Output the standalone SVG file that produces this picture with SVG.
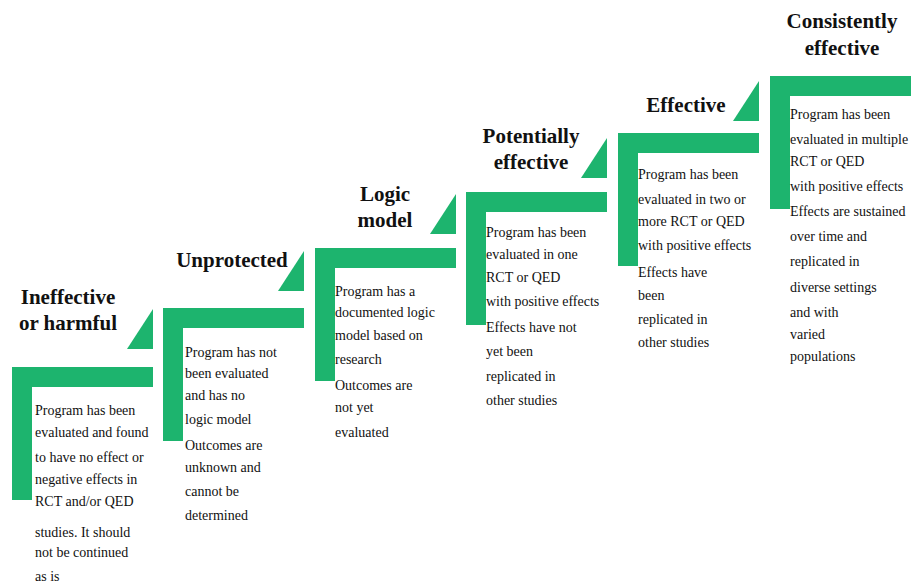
<svg xmlns="http://www.w3.org/2000/svg" width="923" height="584" viewBox="0 0 923 584">
<style>
.step{fill:#1db46e}
.tri{fill:#1db46e}
.hd{font-family:"Liberation Serif","Times New Roman",serif;font-weight:bold;font-size:21px;fill:#111;text-anchor:middle}
.bd{font-family:"Liberation Serif","Times New Roman",serif;font-size:14px;fill:#111}
</style>
<rect width="923" height="584" fill="#fff"/>
<g id="step1">
<path class="step" d="M12,367 h141 v20 h-121 v113 h-20 z"/>
<polygon class="tri" points="127,349 153,349 153,309"/>
<text class="hd" x="68" y="304">Ineffective</text>
<text class="hd" x="68" y="330">or harmful</text>
<text class="bd" x="35"><tspan x="35" y="415">Program has been</tspan><tspan x="35" y="437">evaluated and found</tspan><tspan x="35" y="462">to have no effect or</tspan><tspan x="35" y="484">negative effects in</tspan><tspan x="35" y="506">RCT and/or QED</tspan><tspan x="35" y="537">studies. It should</tspan><tspan x="35" y="557">not be continued</tspan><tspan x="35" y="581">as is</tspan></text>
</g>
<g id="step2">
<path class="step" d="M163,308 h141 v20 h-121 v113 h-20 z"/>
<polygon class="tri" points="278,291 304,291 304,251"/>
<text class="hd" x="232" y="267">Unprotected</text>
<text class="bd"><tspan x="185" y="357">Program has not</tspan><tspan x="185" y="378">been evaluated</tspan><tspan x="185" y="400">and has no</tspan><tspan x="185" y="424">logic model</tspan><tspan x="185" y="450">Outcomes are</tspan><tspan x="185" y="472">unknown and</tspan><tspan x="185" y="496">cannot be</tspan><tspan x="185" y="520">determined</tspan></text>
</g>
<g id="step3">
<path class="step" d="M315,248 h141 v20 h-121 v113 h-20 z"/>
<polygon class="tri" points="430,234 456,234 456,194"/>
<text class="hd" x="385" y="201">Logic</text>
<text class="hd" x="385" y="227">model</text>
<text class="bd"><tspan x="335" y="296">Program has a</tspan><tspan x="335" y="317">documented logic</tspan><tspan x="335" y="340">model based on</tspan><tspan x="335" y="364">research</tspan><tspan x="335" y="390">Outcomes are</tspan><tspan x="335" y="412">not yet</tspan><tspan x="335" y="437">evaluated</tspan></text>
</g>
<g id="step4">
<path class="step" d="M466,192 h141 v20 h-121 v113 h-20 z"/>
<polygon class="tri" points="581,178 607,178 607,138"/>
<text class="hd" x="531" y="143">Potentially</text>
<text class="hd" x="531" y="169">effective</text>
<text class="bd"><tspan x="486" y="237">Program has been</tspan><tspan x="486" y="259">evaluated in one</tspan><tspan x="486" y="282">RCT or QED</tspan><tspan x="486" y="306">with positive effects</tspan><tspan x="486" y="332">Effects have not</tspan><tspan x="486" y="356">yet been</tspan><tspan x="486" y="381">replicated in</tspan><tspan x="486" y="405">other studies</tspan></text>
</g>
<g id="step5">
<path class="step" d="M618,133 h141 v20 h-121 v113 h-20 z"/>
<polygon class="tri" points="733,121 759,121 759,81"/>
<text class="hd" x="686" y="112">Effective</text>
<text class="bd"><tspan x="638" y="179">Program has been</tspan><tspan x="638" y="204">evaluated in two or</tspan><tspan x="638" y="226">more RCT or QED</tspan><tspan x="638" y="250">with positive effects</tspan><tspan x="638" y="277">Effects have</tspan><tspan x="638" y="300">been</tspan><tspan x="638" y="324">replicated in</tspan><tspan x="638" y="347">other studies</tspan></text>
</g>
<g id="step6">
<path class="step" d="M770,76 h141 v20 h-121 v113 h-20 z"/>
<text class="hd" x="842" y="28">Consistently</text>
<text class="hd" x="842" y="55">effective</text>
<text class="bd"><tspan x="790" y="119">Program has been</tspan><tspan x="790" y="144">evaluated in multiple</tspan><tspan x="790" y="166">RCT or QED</tspan><tspan x="790" y="191">with positive effects</tspan><tspan x="790" y="216">Effects are sustained</tspan><tspan x="790" y="241">over time and</tspan><tspan x="790" y="266">replicated in</tspan><tspan x="790" y="292">diverse settings</tspan><tspan x="790" y="317">and with</tspan><tspan x="790" y="339">varied</tspan><tspan x="790" y="361">populations</tspan></text>
</g>
<g id="connectors"></g>
</svg>
